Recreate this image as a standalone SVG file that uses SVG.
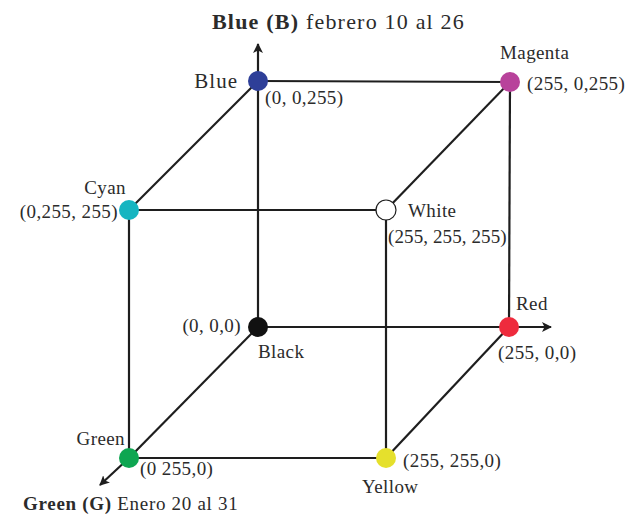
<svg xmlns="http://www.w3.org/2000/svg" width="633" height="517" viewBox="0 0 633 517">
<style>
text{font-family:"Liberation Serif","Times New Roman",serif;fill:#2b2b2b}
.t{font-size:19px;letter-spacing:0.4px}
.ttl{font-size:22px;letter-spacing:1.2px}
.bot{font-size:19px;letter-spacing:0.7px}
.e{stroke:#1e1e1e;stroke-width:2.2;fill:none}
.n{stroke:none}
</style>
<defs>
<marker id="ah" viewBox="0 0 10 10" refX="9" refY="5" markerWidth="10" markerHeight="10" markerUnits="userSpaceOnUse" orient="auto">
<path d="M0,0 L10,5 L0,10 L2.5,5 Z" fill="#1e1e1e"/>
</marker>
</defs>
<g id="connectors">
<line class="e" x1="258" y1="81" x2="510" y2="82"/>
<line class="e" x1="258" y1="81" x2="129" y2="210"/>
<line class="e" x1="258" y1="81" x2="258" y2="327"/>
<line class="e" x1="258" y1="81" x2="258" y2="44" marker-end="url(#ah)"/>
<line class="e" x1="510" y1="82" x2="386" y2="210"/>
<line class="e" x1="510" y1="82" x2="509" y2="327"/>
<line class="e" x1="129" y1="210" x2="386" y2="210"/>
<line class="e" x1="129" y1="210" x2="129" y2="458"/>
<line class="e" x1="386" y1="210" x2="386" y2="458"/>
<line class="e" x1="258" y1="327" x2="509" y2="327"/>
<line class="e" x1="258" y1="327" x2="129" y2="458"/>
<line class="e" x1="509" y1="327" x2="551" y2="327" marker-end="url(#ah)"/>
<line class="e" x1="509" y1="327" x2="386" y2="458"/>
<line class="e" x1="129" y1="458" x2="386" y2="458"/>
<line class="e" x1="129" y1="458" x2="100" y2="485" marker-end="url(#ah)"/>
</g>
<g id="title">
<text class="ttl" x="212" y="29"><tspan font-weight="bold">Blue (B)</tspan> febrero 10 al 26</text>
</g>
<g id="bottom-title">
<text class="bot" x="23" y="510"><tspan font-weight="bold">Green (G)</tspan> Enero 20 al 31</text>
</g>
<g id="blue">
<circle class="n" cx="258" cy="81" r="10" fill="#2e3f98"/>
<text x="238" y="88" text-anchor="end" style="font-size:21px;letter-spacing:1px">Blue</text>
<text class="t" x="265" y="104">(0, 0,255)</text>
</g>
<g id="magenta">
<circle class="n" cx="510" cy="82" r="10" fill="#b8429b"/>
<text class="t" x="500" y="59">Magenta</text>
<text class="t" x="527" y="90">(255, 0,255)</text>
</g>
<g id="cyan">
<circle class="n" cx="129" cy="210" r="10" fill="#15b5c1"/>
<text class="t" x="126" y="194" text-anchor="end">Cyan</text>
<text class="t" x="118" y="218" text-anchor="end">(0,255, 255)</text>
</g>
<g id="white">
<circle cx="386" cy="210" r="10" fill="#ffffff" stroke="#1e1e1e" stroke-width="1.2"/>
<text class="t" x="408" y="217">White</text>
<text class="t" x="388" y="243" style="letter-spacing:0.1px">(255, 255, 255)</text>
</g>
<g id="black">
<circle class="n" cx="258" cy="327" r="10" fill="#111111"/>
<text class="t" x="241" y="332" text-anchor="end">(0, 0,0)</text>
<text class="t" x="258" y="358">Black</text>
</g>
<g id="red">
<circle class="n" cx="509" cy="327" r="10" fill="#ee2b3d"/>
<text class="t" x="516" y="310">Red</text>
<text class="t" x="498" y="359">(255, 0,0)</text>
</g>
<g id="green">
<circle class="n" cx="129" cy="458" r="10" fill="#0ea651"/>
<text class="t" x="125" y="445" text-anchor="end">Green</text>
<text class="t" x="140" y="475">(0 255,0)</text>
</g>
<g id="yellow">
<circle class="n" cx="386" cy="458" r="10" fill="#e5e02c"/>
<text class="t" x="403" y="467">(255, 255,0)</text>
<text class="t" x="362" y="493">Yellow</text>
</g>
</svg>
